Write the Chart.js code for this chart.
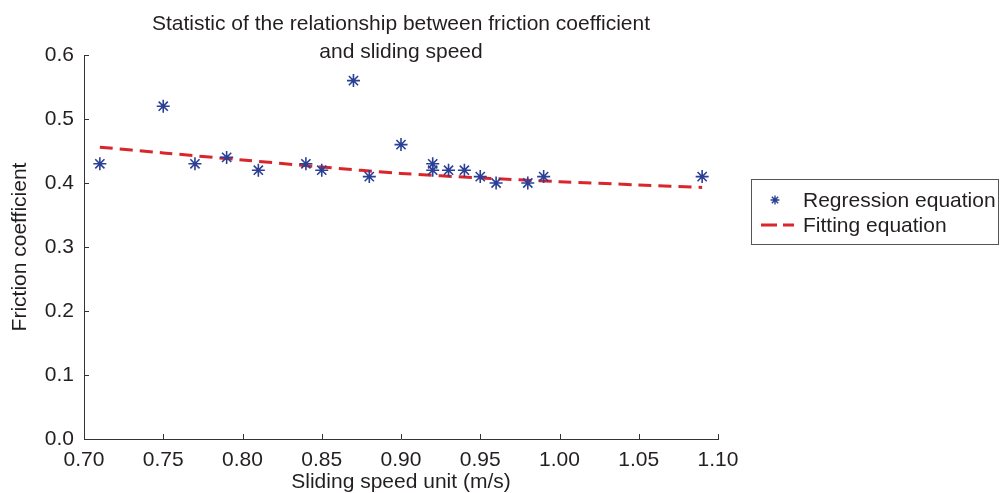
<!DOCTYPE html>
<html>
<head>
<meta charset="utf-8">
<script src="https://cdn.jsdelivr.net/npm/chart.js@4"></script>
<style>
    html, body { margin: 0; padding: 0; background: #fff; }
    #wrap { width: 1002px; height: 493px; }
</style>
</head>
<body>
<div id="wrap"><canvas id="chart" width="1002" height="493"></canvas></div>
<script>
const titleLines = ["Statistic of the relationship between friction coefficient", "and sliding speed"];
const xTitle = "Sliding speed unit (m/s)";
const yTitle = "Friction coefficient";
const seriesNames = ["Regression equation", "Fitting equation"];

const speeds = [0.71, 0.75, 0.77, 0.79, 0.81, 0.84, 0.85, 0.87, 0.88, 0.90, 0.92, 0.92, 0.93, 0.94, 0.95, 0.96, 0.98, 0.99, 1.09];
const frictions = [0.43, 0.52, 0.43, 0.44, 0.42, 0.43, 0.42, 0.56, 0.41, 0.46, 0.43, 0.42, 0.42, 0.42, 0.41, 0.40, 0.40, 0.41, 0.41];

const fitSpeeds = [0.71, 0.75, 0.80, 0.85, 0.90, 0.95, 1.00, 1.05, 1.09];
const fitValues = [0.456, 0.447, 0.436, 0.425, 0.415, 0.408, 0.402, 0.397, 0.393];

const xTicks = [0.70, 0.75, 0.80, 0.85, 0.90, 0.95, 1.00, 1.05, 1.10];
const yTicks = [0.0, 0.1, 0.2, 0.3, 0.4, 0.5, 0.6];

const FONT = "'Liberation Sans', Arial, sans-serif";
const INK = "#231f20";
const BLUE = "#2b3f95";
const RED = "#d8262c";

const decorations = {
    id: "decorations",
    afterDraw(chart) {
        const { ctx, chartArea, scales } = chart;
        ctx.save();
        // inward ticks
        ctx.strokeStyle = "#333";
        ctx.lineWidth = 1;
        ctx.beginPath();
        yTicks.forEach(v => {
            const y = Math.round(scales.y.getPixelForValue(v)) + 0.5;
            ctx.moveTo(chartArea.left, y);
            ctx.lineTo(chartArea.left + 5, y);
        });
        xTicks.forEach(v => {
            const x = Math.round(scales.x.getPixelForValue(v)) + 0.5;
            ctx.moveTo(x, chartArea.bottom);
            ctx.lineTo(x, chartArea.bottom - 5);
        });
        ctx.stroke();

        // title
        ctx.fillStyle = INK;
        ctx.font = `21px ${FONT}`;
        ctx.textAlign = "center";
        ctx.textBaseline = "middle";
        const cx = (chartArea.left + chartArea.right) / 2;
        ctx.fillText(titleLines[0], cx, 24);
        ctx.fillText(titleLines[1], cx, 52);

        // legend
        ctx.strokeStyle = "#555";
        ctx.lineWidth = 1;
        ctx.strokeRect(751.5, 179.5, 247, 65);
        ctx.strokeStyle = BLUE;
        ctx.lineWidth = 1.4;
        Chart.helpers.drawPoint(ctx, { pointStyle: "star", radius: 4.5, borderWidth: 1.4 }, 775, 200);
        ctx.strokeStyle = RED;
        ctx.lineWidth = 3;
        ctx.setLineDash([16, 6]);
        ctx.beginPath();
        ctx.moveTo(761, 225);
        ctx.lineTo(794, 225);
        ctx.stroke();
        ctx.setLineDash([]);
        ctx.fillStyle = INK;
        ctx.textAlign = "left";
        ctx.fillText(seriesNames[0], 803, 201);
        ctx.fillText(seriesNames[1], 803, 226);
        ctx.restore();
    }
};

new Chart(document.getElementById("chart"), {
    type: "scatter",
    data: {
        datasets: [
            {
                label: seriesNames[0],
                data: speeds.map((s, i) => ({ x: s, y: frictions[i] })),
                pointStyle: "star",
                pointRadius: 6.5,
                pointBorderWidth: 1.6,
                borderColor: BLUE,
                backgroundColor: BLUE,
                order: 1
            },
            {
                label: seriesNames[1],
                type: "line",
                data: fitSpeeds.map((s, i) => ({ x: s, y: fitValues[i] })),
                borderColor: RED,
                borderWidth: 3,
                borderDash: [13, 7],
                pointRadius: 0,
                fill: false,
                tension: 0.3,
                order: 2
            }
        ]
    },
    options: {
        responsive: false,
        animation: false,
        layout: { padding: { top: 55, right: 284, left: 0, bottom: 0 } },
        plugins: {
            legend: { display: false },
            title: { display: false },
            tooltip: { enabled: false }
        },
        scales: {
            x: {
                type: "linear",
                min: 0.70,
                max: 1.10,
                afterFit: scale => { scale.height = 54; },
                afterBuildTicks: scale => { scale.ticks = xTicks.map(v => ({ value: v })); },
                grid: { display: false, drawTicks: false },
                border: { display: true, color: "#333", width: 1 },
                ticks: {
                    padding: 9,
                    color: INK,
                    font: { family: FONT, size: 21 },
                    maxRotation: 0,
                    callback: v => v.toFixed(2)
                },
                title: {
                    display: true,
                    text: xTitle,
                    color: INK,
                    font: { family: FONT, size: 21, lineHeight: 1 },
                    padding: { top: 0, bottom: 0 }
                }
            },
            y: {
                type: "linear",
                min: 0,
                max: 0.6,
                afterFit: scale => { scale.width = 84; },
                afterBuildTicks: scale => { scale.ticks = yTicks.map(v => ({ value: v })); },
                grid: { display: false, drawTicks: false },
                border: { display: true, color: "#333", width: 1 },
                ticks: {
                    padding: 10,
                    color: INK,
                    font: { family: FONT, size: 21 },
                    callback: v => v.toFixed(1)
                },
                title: {
                    display: true,
                    text: yTitle,
                    color: INK,
                    font: { family: FONT, size: 21, lineHeight: 1 },
                    padding: { top: 10, bottom: 0 }
                }
            }
        }
    },
    plugins: [decorations]
});
</script>
</body>
</html>
